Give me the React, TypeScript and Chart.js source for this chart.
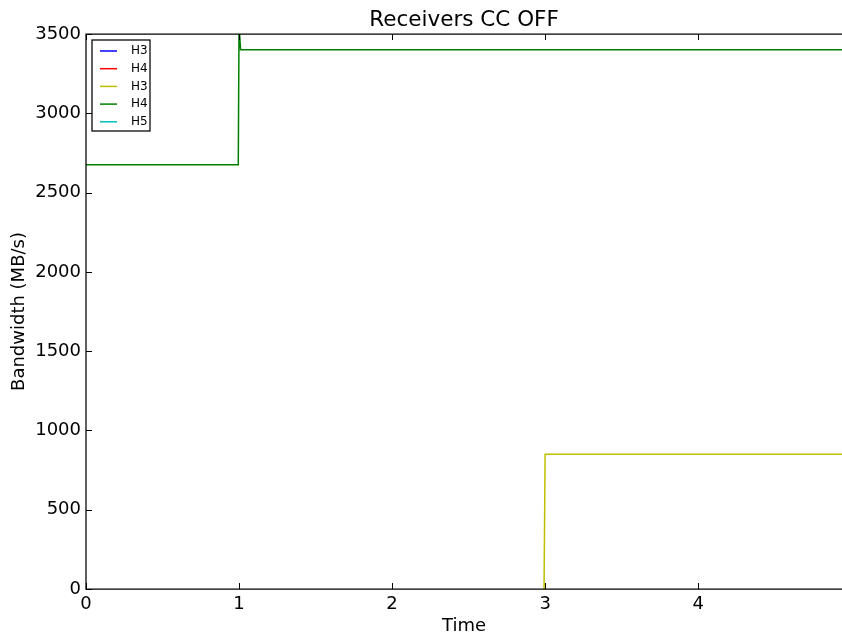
import React, { useEffect, useRef } from "react";
import { Chart, registerables } from "chart.js";

Chart.register(...registerables);

// Receiver bandwidth over time, congestion control off
const titleText = "Receivers CC OFF";
const xLabel = "Time";
const yLabel = "Bandwidth (MB/s)";

const seriesNames = ["H3", "H4", "H3", "H4", "H5"];
const seriesColors = ["#0000ff", "#ff0000", "#bfbf00", "#008000", "#00bfbf"];

// first receiver group
const h3aTime: number[] = [];
const h3aBw: number[] = [];
const h4aTime: number[] = [];
const h4aBw: number[] = [];
// second receiver group
const h3bTime = [2.993, 3.0, 4.94];
const h3bBw = [0, 850, 850];
const h4bTime = [0, 0.995, 1.0, 1.01, 4.94];
const h4bBw = [2675, 2675, 3560, 3400, 3400];
const h5Time: number[] = [];
const h5Bw: number[] = [];

const xTicks = [0, 1, 2, 3, 4];
const yTicks = [0, 500, 1000, 1500, 2000, 2500, 3000, 3500];
const xMin = 0;
const xMax = 4.94;
const yMin = 0;
const yMax = 3500;

const seriesTimes = [h3aTime, h4aTime, h3bTime, h4bTime, h5Time];
const seriesValues = [h3aBw, h4aBw, h3bBw, h4bBw, h5Bw];

const FONT = "'DejaVu Sans', sans-serif";

// axes frame with inward tick marks, drawn over the lines
const framePlugin = {
  id: "frame",
  afterDatasetsDraw(chart: any) {
    const { ctx, chartArea } = chart;
    const { left, right, top, bottom } = chartArea;
    const xs = chart.scales.x;
    const ys = chart.scales.y;
    ctx.save();
    ctx.strokeStyle = "#000";
    ctx.lineWidth = 1.25;
    ctx.beginPath();
    ctx.moveTo(right + 2, top);
    ctx.lineTo(left, top);
    ctx.lineTo(left, bottom);
    ctx.lineTo(right + 2, bottom);
    ctx.stroke();
    ctx.lineWidth = 1;
    const tl = 6;
    ctx.beginPath();
    for (const v of xTicks) {
      const px = Math.round(xs.getPixelForValue(v)) + 0.5;
      ctx.moveTo(px, bottom);
      ctx.lineTo(px, bottom - tl);
      ctx.moveTo(px, top);
      ctx.lineTo(px, top + tl);
    }
    for (const v of yTicks) {
      const py = Math.round(ys.getPixelForValue(v)) + 0.5;
      ctx.moveTo(left, py);
      ctx.lineTo(left + tl, py);
    }
    ctx.stroke();
    ctx.restore();
  },
};

// boxed legend in the upper-left corner of the plot
const legendPlugin = {
  id: "cornerLegend",
  afterDraw(chart: any) {
    const { ctx, chartArea } = chart;
    const x0 = chartArea.left + 6;
    const y0 = chartArea.top + 6;
    const w = 58;
    const rowH = 17.7;
    const h = 91;
    ctx.save();
    ctx.fillStyle = "#fff";
    ctx.fillRect(x0, y0, w, h);
    ctx.strokeStyle = "#000";
    ctx.lineWidth = 1.25;
    ctx.strokeRect(x0, y0, w, h);
    ctx.font = `12px ${FONT}`;
    ctx.textBaseline = "middle";
    ctx.textAlign = "left";
    chart.data.datasets.forEach((ds: any, i: number) => {
      const cy = y0 + 11 + i * rowH;
      ctx.strokeStyle = ds.borderColor;
      ctx.lineWidth = 1.5;
      ctx.beginPath();
      ctx.moveTo(x0 + 8, cy);
      ctx.lineTo(x0 + 25, cy);
      ctx.stroke();
      ctx.fillStyle = "#000";
      ctx.fillText(ds.label, x0 + 39, cy);
    });
    ctx.restore();
  },
};

export default function App() {
  const canvasRef = useRef<HTMLCanvasElement | null>(null);

  useEffect(() => {
    const canvas = canvasRef.current;
    if (!canvas) return;
    const datasets = seriesNames.map((name, i) => ({
      label: name,
      data: seriesTimes[i].map((t, j) => ({ x: t, y: seriesValues[i][j] })),
      borderColor: seriesColors[i],
      backgroundColor: seriesColors[i],
      borderWidth: 1.5,
      pointRadius: 0,
      fill: false,
      tension: 0,
    }));

    const chart = new Chart(canvas, {
      type: "line",
      data: { datasets },
      options: {
        responsive: false,
        animation: false,
        devicePixelRatio: 1,
        layout: { padding: 0 },
        plugins: {
          legend: { display: false },
          tooltip: { enabled: false },
          title: {
            display: true,
            text: titleText,
            color: "#000",
            fullSize: false,
            font: { family: FONT, size: 21.5, weight: "normal", lineHeight: 1.2 },
            padding: { top: 8, bottom: 0.2 },
          },
        },
        scales: {
          x: {
            type: "linear",
            min: xMin,
            max: xMax,
            afterBuildTicks: (scale: any) => {
              scale.ticks = xTicks.map((v) => ({ value: v }));
            },
            afterFit: (scale: any) => {
              scale.height = 47;
            },
            grid: { display: false, drawTicks: false },
            border: { display: false },
            ticks: {
              color: "#000",
              padding: 5,
              font: { family: FONT, size: 18 },
              callback: (v: any) => String(v),
            },
            title: {
              display: true,
              text: xLabel,
              color: "#000",
              font: { family: FONT, size: 18 },
              padding: { top: 0, bottom: -1 },
            },
          },
          y: {
            type: "linear",
            min: yMin,
            max: yMax,
            afterBuildTicks: (scale: any) => {
              scale.ticks = yTicks.map((v) => ({ value: v }));
            },
            afterFit: (scale: any) => {
              scale.width = 86;
            },
            grid: { display: false, drawTicks: false },
            border: { display: false },
            ticks: {
              color: "#000",
              padding: 5,
              font: { family: FONT, size: 18 },
              callback: (v: any) => String(v),
            },
            title: {
              display: true,
              text: yLabel,
              color: "#000",
              font: { family: FONT, size: 18 },
              padding: { top: 9, bottom: 0 },
            },
          },
        },
      },
      plugins: [framePlugin, legendPlugin],
    });

    return () => chart.destroy();
  }, []);

  return (
    <div style={{ position: "absolute", left: 0, top: 0, width: 842, height: 636, background: "#fff" }}>
      <canvas ref={canvasRef} width={842} height={636} style={{ width: 842, height: 636, display: "block" }} />
    </div>
  );
}
